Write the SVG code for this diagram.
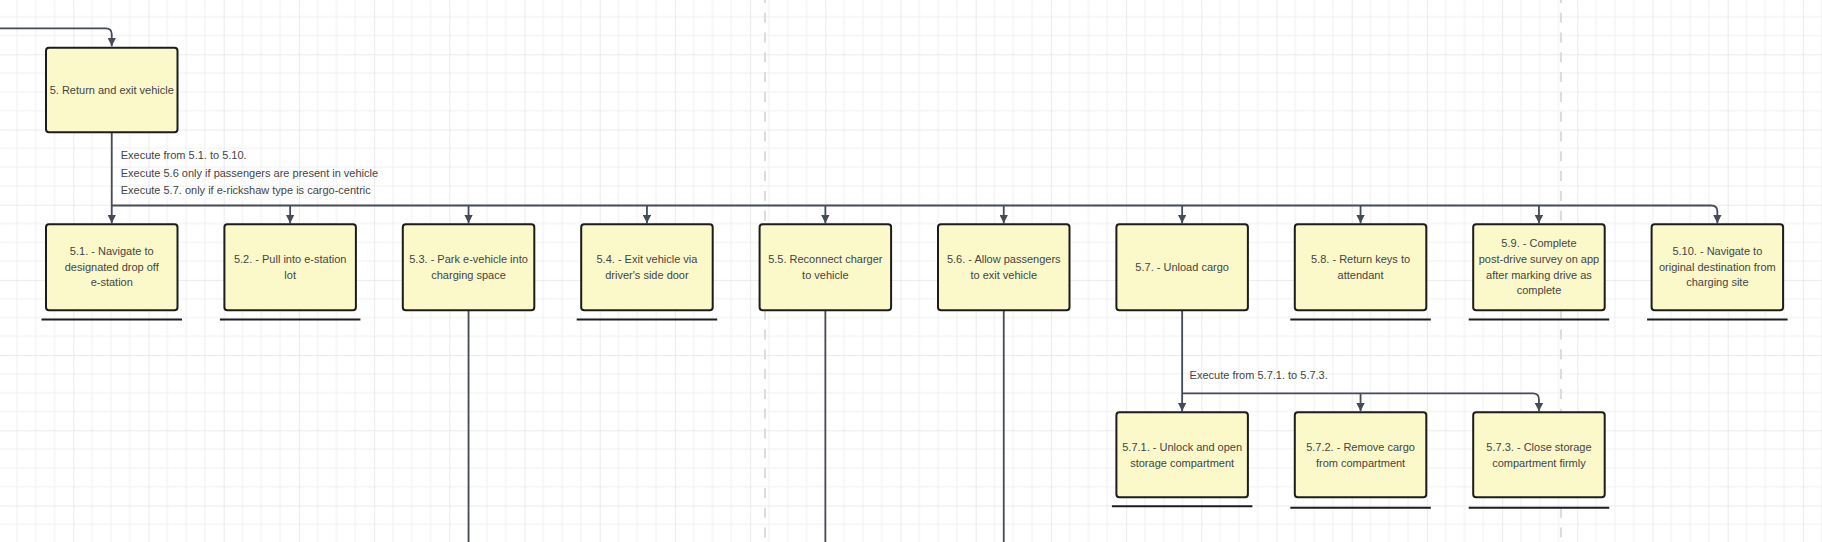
<svg xmlns="http://www.w3.org/2000/svg" width="1822" height="542" viewBox="0 0 1822 542">
<style>
.box{fill:#fbf9c9;stroke:#1c1c1c;stroke-width:2}
.ul{stroke:#1c1c1c;stroke-width:2}
.t{font-family:"Liberation Sans",Arial,sans-serif;font-size:11px;fill:#444;text-anchor:middle}
.lbl{font-family:"Liberation Sans",Arial,sans-serif;font-size:11px;fill:#444}
.c{fill:none;stroke:#454b57;stroke-width:1.8}
.dash{stroke:#dcdcdc;stroke-width:2;stroke-dasharray:10 9.8;stroke-dashoffset:7.1}
</style>
<defs>
<pattern id="grid" patternUnits="userSpaceOnUse" x="73.3" y="54.3" width="75.2" height="75.2">
<rect x="0" y="0" width="75.2" height="75.2" fill="#ffffff"/>
<g fill="#f0f0f0">
<rect x="18.3" y="0" width="1" height="75.2"/>
<rect x="37.1" y="0" width="1" height="75.2"/>
<rect x="55.9" y="0" width="1" height="75.2"/>
<rect x="0" y="18.3" width="75.2" height="1"/>
<rect x="0" y="37.1" width="75.2" height="1"/>
<rect x="0" y="55.9" width="75.2" height="1"/>
</g>
<g fill="#e3e3e3">
<rect x="-0.5" y="0" width="1.2" height="75.2"/>
<rect x="0" y="-0.5" width="75.2" height="1.2"/>
</g>
</pattern>
<marker id="arr" markerUnits="userSpaceOnUse" viewBox="0 0 10 10" refX="10" refY="5" markerWidth="9" markerHeight="8.5" orient="auto">
<path d="M0,0 L10,5 L0,10 z" fill="#454b57"/>
</marker>
</defs>
<rect x="0" y="0" width="1822" height="542" fill="url(#grid)"/>
<line class="dash" x1="765" y1="0" x2="765" y2="542"/>
<line class="dash" x1="1561" y1="0" x2="1561" y2="542"/>

<g id="connectors">
<path class="c" d="M0,28.3 H105.75 Q111.75,28.3 111.75,34.3 V46.3" marker-end="url(#arr)"/>
<path class="c" d="M111.75,132.3 V223.3" marker-end="url(#arr)"/>
<path class="c" d="M111.75,205.5 H1711.35 Q1717.35,205.5 1717.35,211.5 V223.3" marker-end="url(#arr)"/>
<path class="c" d="M290.15,205.5 V223.3" marker-end="url(#arr)"/>
<path class="c" d="M468.55,205.5 V223.3" marker-end="url(#arr)"/>
<path class="c" d="M646.95,205.5 V223.3" marker-end="url(#arr)"/>
<path class="c" d="M825.35,205.5 V223.3" marker-end="url(#arr)"/>
<path class="c" d="M1003.75,205.5 V223.3" marker-end="url(#arr)"/>
<path class="c" d="M1182.15,205.5 V223.3" marker-end="url(#arr)"/>
<path class="c" d="M1360.55,205.5 V223.3" marker-end="url(#arr)"/>
<path class="c" d="M1538.95,205.5 V223.3" marker-end="url(#arr)"/>
<path class="c" d="M468.55,311 V542"/>
<path class="c" d="M825.35,311 V542"/>
<path class="c" d="M1003.75,311 V542"/>
<path class="c" d="M1182.15,311 V411.3" marker-end="url(#arr)"/>
<path class="c" d="M1182.15,393.3 H1532.95 Q1538.95,393.3 1538.95,399.3 V411.3" marker-end="url(#arr)"/>
<path class="c" d="M1360.55,393.3 V411.3" marker-end="url(#arr)"/>
<text class="lbl" x="120.7" y="159.2">Execute from 5.1. to 5.10.</text>
<text class="lbl" x="120.7" y="176.9">Execute 5.6 only if passengers are present in vehicle</text>
<text class="lbl" x="120.7" y="194.2">Execute 5.7. only if e-rickshaw type is cargo-centric</text>
<text class="lbl" x="1189.6" y="379.2">Execute from 5.7.1. to 5.7.3.</text>
</g>

<g id="node-5">
<rect class="box" x="46" y="47.7" width="131.5" height="84.6" rx="3"/>
<text class="t" x="111.75" y="93.8">5. Return and exit vehicle</text>
</g>

<g id="node-5-1">
<rect class="box" x="46" y="224.3" width="131.5" height="86" rx="3"/>
<line class="ul" x1="41.5" y1="319.5" x2="182" y2="319.5"/>
<text class="t" x="111.75" y="255.2">5.1. - Navigate to</text>
<text class="t" x="111.75" y="270.8">designated drop off</text>
<text class="t" x="111.75" y="286.4">e-station</text>
</g>

<g id="node-5-2">
<rect class="box" x="224.4" y="224.3" width="131.5" height="86" rx="3"/>
<line class="ul" x1="219.9" y1="319.5" x2="360.4" y2="319.5"/>
<text class="t" x="290.15" y="263">5.2. - Pull into e-station</text>
<text class="t" x="290.15" y="278.6">lot</text>
</g>

<g id="node-5-3">
<rect class="box" x="402.8" y="224.3" width="131.5" height="86" rx="3"/>
<text class="t" x="468.55" y="263">5.3. - Park e-vehicle into</text>
<text class="t" x="468.55" y="278.6">charging space</text>
</g>

<g id="node-5-4">
<rect class="box" x="581.2" y="224.3" width="131.5" height="86" rx="3"/>
<line class="ul" x1="576.7" y1="319.5" x2="717.2" y2="319.5"/>
<text class="t" x="646.95" y="263">5.4. - Exit vehicle via</text>
<text class="t" x="646.95" y="278.6">driver's side door</text>
</g>

<g id="node-5-5">
<rect class="box" x="759.6" y="224.3" width="131.5" height="86" rx="3"/>
<text class="t" x="825.35" y="263">5.5. Reconnect charger</text>
<text class="t" x="825.35" y="278.6">to vehicle</text>
</g>

<g id="node-5-6">
<rect class="box" x="938" y="224.3" width="131.5" height="86" rx="3"/>
<text class="t" x="1003.75" y="263">5.6. - Allow passengers</text>
<text class="t" x="1003.75" y="278.6">to exit vehicle</text>
</g>

<g id="node-5-7">
<rect class="box" x="1116.4" y="224.3" width="131.5" height="86" rx="3"/>
<text class="t" x="1182.15" y="270.8">5.7. - Unload cargo</text>
</g>

<g id="node-5-8">
<rect class="box" x="1294.8" y="224.3" width="131.5" height="86" rx="3"/>
<line class="ul" x1="1290.3" y1="319.5" x2="1430.8" y2="319.5"/>
<text class="t" x="1360.55" y="263">5.8. - Return keys to</text>
<text class="t" x="1360.55" y="278.6">attendant</text>
</g>

<g id="node-5-9">
<rect class="box" x="1473.2" y="224.3" width="131.5" height="86" rx="3"/>
<line class="ul" x1="1468.7" y1="319.5" x2="1609.2" y2="319.5"/>
<text class="t" x="1538.95" y="247.4">5.9. - Complete</text>
<text class="t" x="1538.95" y="263">post-drive survey on app</text>
<text class="t" x="1538.95" y="278.6">after marking drive as</text>
<text class="t" x="1538.95" y="294.2">complete</text>
</g>

<g id="node-5-10">
<rect class="box" x="1651.6" y="224.3" width="131.5" height="86" rx="3"/>
<line class="ul" x1="1647.1" y1="319.5" x2="1787.6" y2="319.5"/>
<text class="t" x="1717.35" y="255.2">5.10. - Navigate to</text>
<text class="t" x="1717.35" y="270.8">original destination from</text>
<text class="t" x="1717.35" y="286.4">charging site</text>
</g>

<g id="node-5-7-1">
<rect class="box" x="1116.4" y="412.3" width="131.5" height="85" rx="3"/>
<line class="ul" x1="1111.9" y1="506.3" x2="1252.4" y2="506.3"/>
<text class="t" x="1182.15" y="451">5.7.1. - Unlock and open</text>
<text class="t" x="1182.15" y="466.6">storage compartment</text>
</g>

<g id="node-5-7-2">
<rect class="box" x="1294.8" y="412.3" width="131.5" height="85" rx="3"/>
<line class="ul" x1="1290.3" y1="507.8" x2="1430.8" y2="507.8"/>
<text class="t" x="1360.55" y="451">5.7.2. - Remove cargo</text>
<text class="t" x="1360.55" y="466.6">from compartment</text>
</g>

<g id="node-5-7-3">
<rect class="box" x="1473.2" y="412.3" width="131.5" height="85" rx="3"/>
<line class="ul" x1="1468.7" y1="507.8" x2="1609.2" y2="507.8"/>
<text class="t" x="1538.95" y="451">5.7.3. - Close storage</text>
<text class="t" x="1538.95" y="466.6">compartment firmly</text>
</g>
</svg>
